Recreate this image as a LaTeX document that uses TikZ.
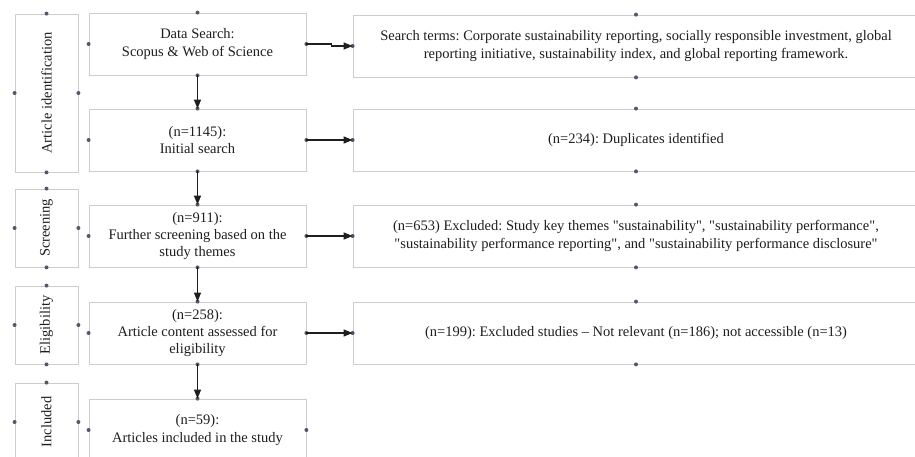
\documentclass[tikz,border=0pt]{standalone}
\usepackage{fontspec}
\setmainfont{Liberation Serif}
\usetikzlibrary{arrows.meta}

\definecolor{boxline}{HTML}{CDCDCD}
\definecolor{handle}{HTML}{55566B}
\definecolor{ink}{HTML}{1E1E1E}

\frenchspacing

\begin{document}
\begin{tikzpicture}[x=1pt, y=-1pt,
    every node/.style={draw=boxline, line width=0.8pt, align=center, inner sep=2pt, text=ink, font=\fontsize{14.5}{17.3}\selectfont},
    stage/.style={rotate=90, minimum width=78pt, minimum height=63pt},
    flowbox/.style={minimum width=217pt, minimum height=62pt},
    sidebox/.style={minimum width=566pt, minimum height=62pt},
    link/.style={draw=ink, line width=1.2pt, -{Triangle[length=9pt, width=7pt]}}]

    % Fix the frame to the screenshot size (right boxes run off the edge)
    \useasboundingbox (0,0) rectangle (915,457);
    \clip (0,0) rectangle (915,457);

    % Stage labels on the left, text turned upright
    \node[stage, minimum width=158pt] (ID) at (46.5,93) {Article identification};
    \node[stage] (SC) at (46.5,228) {Screening};   % 189 to 267
    \node[stage] (EL) at (46.5,325) {Eligibility}; % 286 to 364
    \node[stage] (IN) at (46.5,422) {Included};    % cut at the bottom

    % Main column of the flow
    \node[flowbox] (A) at (197.5,44)  {Data Search:\\Scopus \& Web of Science};
    \node[flowbox] (B) at (197.5,140) {(n=1145):\\Initial search};
    \node[flowbox] (C) at (197.5,236) {(n=911):\\Further screening based on the\\study themes};
    \node[flowbox] (D) at (197.5,333) {(n=258):\\Article content assessed for\\eligibility};
    \node[flowbox] (E) at (197.5,430) {(n=59):\\Articles included in the study};

    % Side boxes on the right
    \node[sidebox] (RA) at (636,46)  {Search terms: Corporate sustainability reporting, socially responsible investment, global\\reporting initiative, sustainability index, and global reporting framework.};
    \node[sidebox] (RB) at (636,140) {(n=234): Duplicates identified};
    \node[sidebox] (RC) at (636,236) {(n=653) Excluded: Study key themes \textquotedbl sustainability\textquotedbl, \textquotedbl sustainability performance\textquotedbl,\\\textquotedbl sustainability performance reporting\textquotedbl, and \textquotedbl sustainability performance disclosure\textquotedbl};
    \node[sidebox] (RD) at (636,333) {(n=199): Excluded studies -- Not relevant (n=186); not accessible (n=13)};

    % Selection handles on the box edges
    \fill[handle] (ID.north) circle (2pt) (ID.south) circle (2pt) (ID.east) circle (2pt) (ID.west) circle (2pt);
    \fill[handle] (SC.north) circle (2pt) (SC.south) circle (2pt) (SC.east) circle (2pt) (SC.west) circle (2pt);
    \fill[handle] (EL.north) circle (2pt) (EL.south) circle (2pt) (EL.east) circle (2pt) (EL.west) circle (2pt);
    \fill[handle] (IN.north) circle (2pt) (IN.south) circle (2pt) (IN.east) circle (2pt) (IN.west) circle (2pt);
    \fill[handle] (A.north) circle (2pt) (A.south) circle (2pt) (A.east) circle (2pt) (A.west) circle (2pt);
    \fill[handle] (B.north) circle (2pt) (B.south) circle (2pt) (B.east) circle (2pt) (B.west) circle (2pt);
    \fill[handle] (C.north) circle (2pt) (C.south) circle (2pt) (C.east) circle (2pt) (C.west) circle (2pt);
    \fill[handle] (D.north) circle (2pt) (D.south) circle (2pt) (D.east) circle (2pt) (D.west) circle (2pt);
    \fill[handle] (E.north) circle (2pt) (E.south) circle (2pt) (E.east) circle (2pt) (E.west) circle (2pt);
    \fill[handle] (RA.north) circle (2pt) (RA.south) circle (2pt) (RA.west) circle (2pt);
    \fill[handle] (RB.north) circle (2pt) (RB.south) circle (2pt) (RB.west) circle (2pt);
    \fill[handle] (RC.north) circle (2pt) (RC.south) circle (2pt) (RC.west) circle (2pt);
    \fill[handle] (RD.north) circle (2pt) (RD.south) circle (2pt) (RD.west) circle (2pt);

    % Downward flow
    \draw[link] (A) -- (B);
    \draw[link] (B) -- (C);
    \draw[link] (C) -- (D);
    \draw[link] (D) -- (E);

    % Arrows out to the side boxes (first one has a small step)
    \draw[link] (A.east) -- ++(25,0) |- (RA.west);
    \draw[link] (B) -- (RB);
    \draw[link] (C) -- (RC);
    \draw[link] (D) -- (RD);

\end{tikzpicture}
\end{document}
